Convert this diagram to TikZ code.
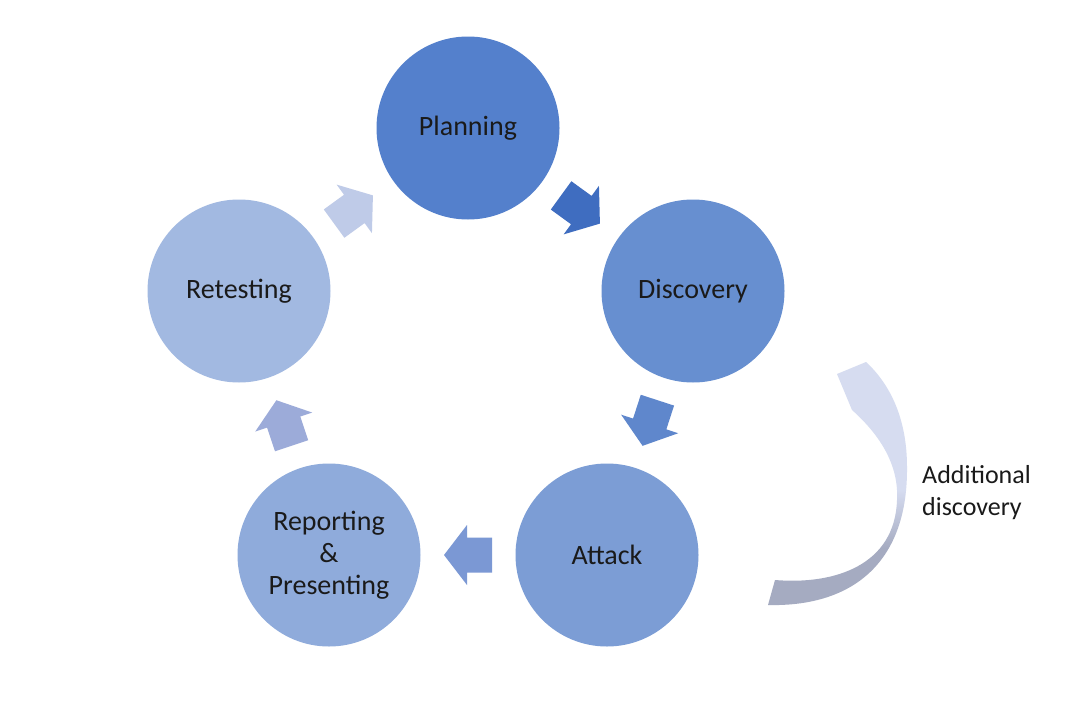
\documentclass[tikz,border=0pt]{standalone}
\usepackage{fontspec}
\setmainfont{Carlito}
\usetikzlibrary{calc}
\definecolor{cplan}{HTML}{5480CC}
\definecolor{cdisc}{HTML}{678FD0}
\definecolor{catt}{HTML}{7C9DD5}
\definecolor{crep}{HTML}{8FABDB}
\definecolor{cret}{HTML}{A2B9E1}
\definecolor{aone}{HTML}{3F6DC0}
\definecolor{atwo}{HTML}{5F87CC}
\definecolor{athree}{HTML}{7B98D4}
\definecolor{afour}{HTML}{9CABD9}
\definecolor{afive}{HTML}{BFCBE8}
\definecolor{txt}{HTML}{1A1A1A}
\definecolor{curvtop}{HTML}{D6DCF0}
\definecolor{curvbot}{HTML}{A5ABC1}
\pgfdeclareverticalshading{curvshade}{100bp}{color(0bp)=(curvbot); color(25bp)=(curvbot);
  color(37bp)=(curvbot); color(49bp)=(curvtop); color(75bp)=(curvtop); color(100bp)=(curvtop)}
\tikzset{
  phase/.style={circle, inner sep=0pt, minimum size=183pt, text=txt,
    align=center, font=\fontsize{28}{32}\selectfont},
  blockarrow/.pic={
    \fill[pic actions] (-24,-17.5) -- (1,-17.5) -- (1,-30) -- (24,0)
      -- (1,30) -- (1,17.5) -- (-24,17.5) -- cycle;
  },
  note/.style={text=txt, align=left, anchor=west, inner sep=0pt,
    font=\fontsize{26}{32}\selectfont}
}
\begin{document}
\begin{tikzpicture}[x=1pt,y=-1pt]
\useasboundingbox (0,0) rectangle (1073,720);
\fill[white] (0,0) rectangle (1073,720);

\node[phase, fill=cplan] (plan) at (468,128) {Planning};
\node[phase, fill=cdisc] (disc) at (693,291) {Discovery};
\node[phase, fill=catt]  (att)  at (607,555) {Attack};
\node[phase, fill=crep]  (rep)  at (329,555) {Reporting\\\&\\Presenting};
\node[phase, fill=cret]  (ret)  at (239,291) {Retesting};

\pic[rotate=-36, fill=aone]  at ($(plan)!0.5!(disc)$) {blockarrow};
\pic[rotate=-108, fill=atwo] at ($(disc)!0.5!(att)$) {blockarrow};
\pic[rotate=180, fill=athree] at ($(att)!0.5!(rep)$) {blockarrow};
\pic[rotate=108.5, fill=afour] at ($(rep)!0.5!(ret)$) {blockarrow};
\pic[rotate=36, fill=afive] at ($(ret)!0.5!(plan)$) {blockarrow};

\coordinate (tailout) at (768,605);
\coordinate (tailin) at (775,580);
\coordinate (barbout) at (866,362);
\coordinate (tip) at (837,374);
\coordinate (barbin) at (852,410);
\shade[shading=curvshade]
  (tailout) .. controls (850,607) and (908,565) .. (907,467)
  .. controls (907,420) and (891,385) .. (barbout)
  -- (tip) -- (barbin)
  .. controls (880,435) and (899,465) .. (897,500)
  .. controls (895,565) and (835,585) .. (tailin)
  -- cycle;

\node[note] (lbl) at (922,493) {Additional\\discovery};
\end{tikzpicture}
\end{document}
